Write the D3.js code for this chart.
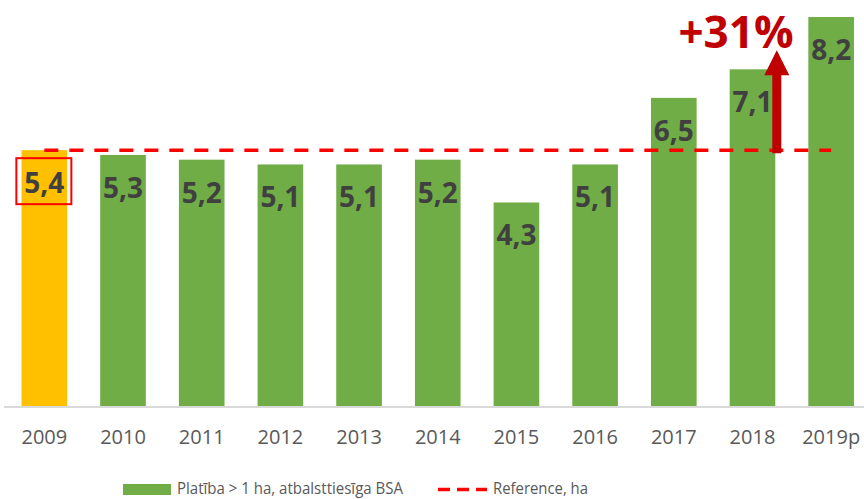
<!DOCTYPE html>
<html>
<head>
<meta charset="utf-8">
<script src="https://cdn.jsdelivr.net/npm/d3@7"></script>
<style>
  body { margin: 0; background: #fff; }
  svg { font-family: "Open Sans", "Liberation Sans", sans-serif; }
</style>
</head>
<body>
<script>
var years = ["2009", "2010", "2011", "2012", "2013", "2014", "2015", "2016", "2017", "2018", "2019p"];
var platiba = [5.4, 5.3, 5.2, 5.1, 5.1, 5.2, 4.3, 5.1, 6.5, 7.1, 8.2];
var reference = 5.4;
var growthLabel = "+31%";
var legendNames = ["Platība > 1 ha, atbalsttiesīga BSA", "Reference, ha"];

var width = 864, height = 499;
var baseY = 407;

var data = years.map(function(y, i){ return {year: y, value: platiba[i]}; });

var svg = d3.select("body").append("svg")
    .attr("width", width).attr("height", height);

var x = d3.scaleBand()
    .domain(years)
    .range([5, 870.5])
    .paddingInner(0.42)
    .paddingOuter(0.21);

var y = d3.scaleLinear()
    .domain([0, 8.2])
    .range([baseY, 17]);

// bars
svg.selectAll("rect.bar")
    .data(data)
  .enter().append("rect")
    .attr("class", "bar")
    .attr("x", function(d){ return x(d.year); })
    .attr("width", x.bandwidth())
    .attr("y", function(d){ return y(d.value); })
    .attr("height", function(d){ return baseY - y(d.value); })
    .attr("fill", function(d, i){ return i === 0 ? "#FFC000" : "#70AD47"; });

// x axis
var xAxis = d3.axisBottom(x).tickSize(0).tickPadding(23);
var gx = svg.append("g")
    .attr("transform", "translate(0," + baseY + ")")
    .call(xAxis);
gx.select(".domain").remove();
gx.append("line")
    .attr("x1", 4).attr("x2", width)
    .attr("stroke", "#d9d9d9").attr("stroke-width", 2);
gx.selectAll("text")
    .attr("font-size", 20)
    .attr("font-family", "'Open Sans', sans-serif")
    .attr("fill", "#595959");

// value labels
svg.selectAll("text.val")
    .data(data)
  .enter().append("text")
    .attr("class", "val")
    .attr("x", function(d){ return x(d.year) + x.bandwidth() / 2; })
    .attr("y", function(d){ return y(d.value) + 43; })
    .attr("text-anchor", "middle")
    .attr("font-size", 28)
    .attr("font-weight", "bold")
    .attr("fill", "#404040")
    .text(function(d){ return d3.format(".1f")(d.value).replace(".", ","); });

// highlight box around 2009 label
var cx0 = x(years[0]) + x.bandwidth() / 2;
svg.append("rect")
    .attr("x", cx0 - 28).attr("y", y(platiba[0]) + 8)
    .attr("width", 55).attr("height", 46)
    .attr("fill", "none")
    .attr("stroke", "#ff0000").attr("stroke-width", 2);

// reference line
svg.append("line")
    .attr("x1", cx0)
    .attr("x2", x(years[years.length - 1]) + x.bandwidth() / 2)
    .attr("y1", y(reference)).attr("y2", y(reference))
    .attr("stroke", "#ff0000")
    .attr("stroke-width", 3.5)
    .attr("stroke-dasharray", "14,11");

// growth arrow
var ax = x("2018") + x.bandwidth() + 1.5;
var yBot = y(reference) + 3, yTip = y(7.5), headH = 25, headW = 25, shaft = 9;
svg.append("path")
    .attr("d", "M" + (ax - shaft / 2) + "," + yBot +
               "V" + (yTip + headH) +
               "H" + (ax - headW / 2) +
               "L" + ax + "," + yTip +
               "L" + (ax + headW / 2) + "," + (yTip + headH) +
               "H" + (ax + shaft / 2) +
               "V" + yBot + "Z")
    .attr("fill", "#C00000");

svg.append("text")
    .attr("x", 736).attr("y", 48)
    .attr("text-anchor", "middle")
    .attr("font-size", 44)
    .attr("font-weight", "bold")
    .attr("fill", "#C00000")
    .text(growthLabel);

// legend
var leg = svg.append("g").attr("class", "legend");
leg.append("rect")
    .attr("x", 123).attr("y", 484)
    .attr("width", 48).attr("height", 11)
    .attr("fill", "#70AD47");
leg.append("text")
    .attr("x", 177).attr("y", 494)
    .attr("font-size", 16)
    .attr("fill", "#595959")
    .attr("textLength", 226)
    .attr("lengthAdjust", "spacingAndGlyphs")
    .text(legendNames[0]);
leg.append("line")
    .attr("x1", 438).attr("x2", 487)
    .attr("y1", 489.5).attr("y2", 489.5)
    .attr("stroke", "#ff0000").attr("stroke-width", 3.5)
    .attr("stroke-dasharray", "12,7");
leg.append("text")
    .attr("x", 493).attr("y", 494)
    .attr("font-size", 16)
    .attr("fill", "#595959")
    .attr("textLength", 95)
    .attr("lengthAdjust", "spacingAndGlyphs")
    .text(legendNames[1]);
</script>
</body>
</html>
